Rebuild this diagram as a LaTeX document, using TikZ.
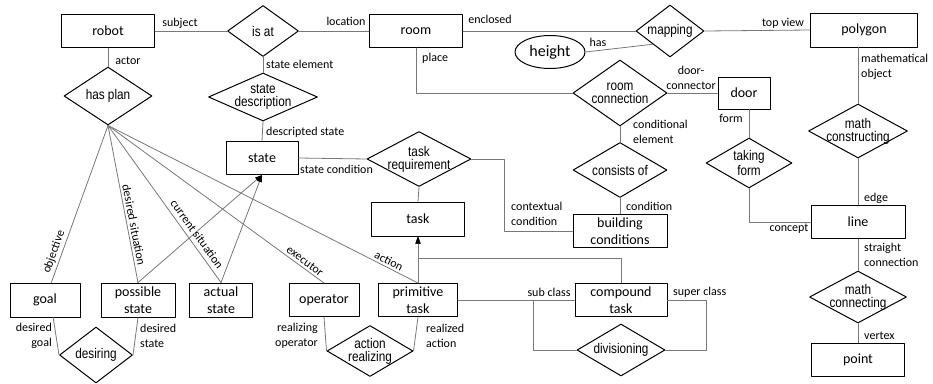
\documentclass[tikz,border=0pt]{standalone}
\usepackage{fontspec}
\setmainfont{Carlito}
\newfontfamily\narrowfont[FakeStretch=0.84]{Liberation Sans}
\usetikzlibrary{arrows.meta}
\usetikzlibrary{shapes.geometric}
\definecolor{linegray}{RGB}{120,120,120}

\begin{document}
\begin{tikzpicture}[x=1pt,y=-1pt,line cap=round,line join=round,
  >={Triangle[length=7pt,width=5pt,black]},
  entity/.style={draw,line width=1pt,rectangle,inner sep=0,minimum width=93,minimum height=33,align=center,font=\fontsize{14}{17.5}\selectfont},
  rel/.style={draw,line width=1pt,diamond,inner sep=0},
  every label/.style={font=\narrowfont\fontsize{14}{13}\selectfont,align=center,inner sep=0},
  conn/.style={draw=linegray,line width=0.8pt},
  lab/.style={font=\fontsize{12}{14.5}\selectfont,inner sep=1pt,align=left}]
\useasboundingbox (0,0) rectangle (933,383);
% entities
\node[entity] (robot) at (108,31) {robot};
\node[entity] (room) at (416,31) {room};
\node[entity,minimum width=107,minimum height=34] (polygon) at (864,30) {polygon};
\node[entity,minimum width=52,minimum height=32] (door) at (744,93) {door};
\node[entity,minimum width=72] (state) at (262,158) {state};
\node[entity,minimum height=34] (task) at (418,219) {task};
\node[entity,minimum width=94] (building) at (620,231) {building\\conditions};
\node[entity,minimum width=94] (line) at (858,222) {line};
\node[entity] (point) at (858,360) {point};
\node[entity,minimum width=70,minimum height=34] (goal) at (45,300) {goal};
\node[entity,minimum width=74,minimum height=34] (possible) at (138,300) {possible\\state};
\node[entity,minimum width=63,minimum height=34] (actual) at (221,300) {actual\\state};
\node[entity,minimum width=70] (operator) at (324,300) {operator};
\node[entity,minimum width=79] (primitive) at (418,300) {primitive\\task};
\node[entity,minimum width=92] (compound) at (621,300) {compound\\task};
\node[draw,line width=1pt,ellipse,minimum width=70,minimum height=33,inner sep=0,font=\fontsize{16}{18}\selectfont] (height) at (550,52) {height};
% relations
\node[rel,minimum width=71,minimum height=51,label={center:is at}] (isat) at (263,31) {};
\node[rel,minimum width=88,minimum height=58,label={center:has plan}] (hasplan) at (108,96) {};
\node[rel,minimum width=109,minimum height=48,label={center:state\\description}] (statedesc) at (263,97) {};
\node[rel,minimum width=68,minimum height=52,label={center:mapping}] (mapping) at (670,31) {};
\node[rel,minimum width=94,minimum height=66,label={center:room\\connection}] (roomconn) at (620,93) {};
\node[rel,minimum width=94,minimum height=55,label={center:consists of}] (consists) at (620,170) {};
\node[rel,minimum width=86,minimum height=50,label={center:taking\\form}] (takingform) at (749,163) {};
\node[rel,minimum width=99,minimum height=54,label={center:math\\constructing}] (mathcons) at (858,131) {};
\node[rel,minimum width=104,minimum height=55,label={center:task\\requirement}] (taskreq) at (419,159) {};
\node[rel,minimum width=97,minimum height=52,label={center:math\\connecting}] (mathconn) at (858,297) {};
\node[rel,minimum width=73,minimum height=56,label={center:desiring}] (desiring) at (96,355) {};
\node[rel,minimum width=86,minimum height=51,label={center:action\\realizing}] (actreal) at (370,351) {};
\node[rel,minimum width=88,minimum height=52,label={center:divisioning}] (division) at (621,350) {};
\coordinate (subcls) at (533,300);
% connectors
\draw[conn] (robot.east) -- (isat.west);
\draw[conn] (isat.east) -- (room.west);
\draw[conn] (room.east) -- (mapping.west);
\draw[conn] (height.east) -- (mapping.south west);
\draw[conn] (mapping.east) -- (polygon.west);
\draw[conn] (robot.south) -- (hasplan.north);
\draw[conn] (isat.south) -- (statedesc.north);
\draw[conn] (statedesc.south) -- (state.north);
\draw[conn] (room.south) |- (roomconn.west);
\draw[conn] (roomconn.east) -- (door.west);
\draw[conn] (roomconn.south) -- (consists.north);
\draw[conn] (consists.south) -- (building.north);
\draw[conn] (takingform.north) -- (takingform.north |- door.south);
\draw[conn] (takingform.south) |- (line.west);
\draw[conn] (mathcons.north) -- (mathcons.north |- polygon.south);
\draw[conn] (mathcons.south) -- (line.north);
\draw[conn] (line.south) -- (mathconn.north);
\draw[conn] (mathconn.south) -- (point.north);
\draw[conn] (state.east) -- (taskreq.west);
\draw[conn] (taskreq.south) -- (task.north);
\draw[conn] (taskreq.east) -- ++(33,0) |- (building.west);
\draw[conn] (hasplan.south) -- (goal.70);
\draw[conn] (hasplan.south) -- (possible.north);
\draw[conn] (hasplan.south) -- (actual.north);
\draw[conn] (hasplan.south) -- (operator.north);
\draw[conn] (hasplan.south) -- (primitive.north);
\draw[conn,->] (possible.north) -- (state.south);
\draw[conn,->] (actual.north) -- (state.south);
\draw[conn,->] (primitive.north) -- (task.south);
\draw[conn,->] (compound.north) -- ++(0,-25) -| (task.south);
\draw[conn] (primitive.east) -- (compound.west);
\draw[conn] (subcls) |- (division.west);
\draw[conn] (compound.east) -- ++(39,0) |- (division.east);
\draw[conn] (goal.-65) -- (desiring.west);
\draw[conn] (possible.south) -- (desiring.east);
\draw[conn] (operator.south) -- (actreal.west);
\draw[conn] (primitive.south) -- (actreal.east);
% labels
\node[lab] (lsubject) at (180,23) {subject};
\node[lab] (llocation) at (346,21) {location};
\node[lab] (lenclosed) at (490,19) {enclosed};
\node[lab] (lhas) at (598,42) {has};
\node[lab] (ltopview) at (783,23) {top view};
\node[lab] (lactor) at (128,61) {actor};
\node[lab,anchor=west] (lstateel) at (265,64) {state element};
\node[lab,anchor=west] (ldescstate) at (265,132) {descripted state};
\node[lab,anchor=west] (lplace) at (421,58) {place};
\node[lab,align=center] (ldoorconn) at (691,78) {door-\\connector};
\node[lab,anchor=west] (lcondel) at (632,132) {conditional\\element};
\node[lab,anchor=west] (lcondition) at (625,206) {condition};
\node[lab] (lform) at (731,118) {form};
\node[lab] (lconcept) at (789,229) {concept};
\node[lab,anchor=west] (lmathobj) at (860,67) {mathematical\\object};
\node[lab,anchor=west] (ledge) at (863,198) {edge};
\node[lab,anchor=west] (lstraight) at (863,255) {straight\\connection};
\node[lab,anchor=west] (lvertex) at (863,336) {vertex};
\node[lab,anchor=west] (lstatecond) at (299,169) {state condition};
\node[lab,anchor=west] (lcontext) at (510,214) {contextual\\condition};
\node[lab] (lsubclass) at (549,292) {sub class};
\node[lab,anchor=west] (lsuperclass) at (672,292) {super class};
\node[lab,anchor=east,align=right] (lrealop) at (319,336) {realizing\\operator};
\node[lab,anchor=west] (lrealact) at (425,336) {realized\\action};
\node[lab,anchor=east,align=right] (ldesgoal) at (53,336) {desired\\goal};
\node[lab,anchor=west] (ldesstate) at (139,336) {desired\\state};
\node[lab,rotate=70] (lobjective) at (54,252) {objective};
\node[lab,rotate=-79] (ldesiredsit) at (134,225) {desired situation};
\node[lab,rotate=-54] (lcurrentsit) at (197,234) {current situation};
\node[lab,rotate=-36.5] (lexecutor) at (305,261) {executor};
\node[lab,rotate=-27] (laction) at (389,261) {action};
\end{tikzpicture}
\end{document}
